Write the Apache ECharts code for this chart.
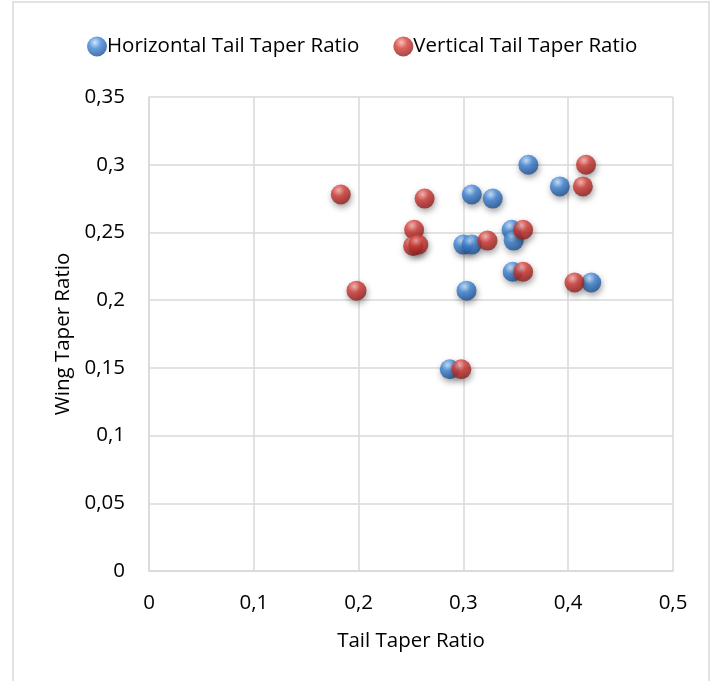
<!DOCTYPE html>
<html>
<head>
<meta charset="utf-8">
<script src="https://cdn.jsdelivr.net/npm/echarts@6/dist/echarts.min.js"></script>
<style>
  html, body { margin: 0; padding: 0; background: #fff; }
  #chart { width: 721px; height: 681px; }
</style>
</head>
<body>
<div id="chart"></div>
<script>
// tail taper ratio (x) vs wing taper ratio (y)
const horizontalX = [0.362, 0.392, 0.308, 0.328, 0.346, 0.348, 0.300, 0.308, 0.347, 0.422, 0.303, 0.287];
const horizontalY = [0.300, 0.284, 0.278, 0.275, 0.252, 0.244, 0.241, 0.241, 0.221, 0.213, 0.207, 0.149];
const verticalX = [0.417, 0.414, 0.183, 0.263, 0.253, 0.252, 0.257, 0.323, 0.357, 0.357, 0.406, 0.198, 0.298];
const verticalY = [0.300, 0.284, 0.278, 0.275, 0.252, 0.240, 0.241, 0.244, 0.252, 0.221, 0.213, 0.207, 0.149];
const xTicks = [0, 0.1, 0.2, 0.3, 0.4, 0.5];
const yTicks = [0, 0.05, 0.1, 0.15, 0.2, 0.25, 0.3, 0.35];

const font = "Open Sans";
const fs = 20.5;
const comma = (v) => String(v).replace(".", ",");

function sphere(light, mid, dark) {
  return {
    type: "radial", x: 0.4, y: 0.3, r: 0.75,
    colorStops: [
      { offset: 0, color: light },
      { offset: 0.4, color: mid },
      { offset: 1, color: dark },
    ],
  };
}
const blue = sphere("#c4e0fa", "#3f86d8", "#1a4a8a");
const red = sphere("#f7b0ab", "#d43b36", "#881a18");

function pairs(xs, ys) {
  return xs.map((x, i) => [x, ys[i]]);
}

const chartDom = document.getElementById("chart");
const myChart = echarts.init(chartDom);

const option = {
  animation: false,
  textStyle: { fontFamily: font },
  graphic: [
    {
      type: "rect",
      shape: { x: 13, y: 2, width: 696, height: 690 },
      style: { fill: "none", stroke: "#d9d9d9", lineWidth: 1.5 },
      silent: true,
    },
  ],
  legend: {
    top: 31,
    left: 82,
    itemGap: 34,
    itemWidth: 20,
    itemHeight: 20,
    icon: "circle",
    textStyle: { fontSize: fs, color: "#000", fontFamily: font, padding: [0, 0, 0, -5] },
    data: [
      { name: "Horizontal Tail Taper Ratio", itemStyle: { color: blue } },
      { name: "Vertical Tail Taper Ratio", itemStyle: { color: red } },
    ],
  },
  grid: { left: 149, right: 48, top: 97, bottom: 110 },
  xAxis: {
    type: "value",
    min: 0, max: 0.5, interval: 0.1,
    name: "Tail Taper Ratio",
    nameLocation: "middle",
    nameGap: 60,
    nameTextStyle: { fontSize: fs, color: "#000" },
    axisLine: { show: true, lineStyle: { color: "#d9d9d9", width: 1.5 } },
    axisTick: { show: false },
    splitLine: { show: true, lineStyle: { color: "#d9d9d9", width: 1.5 } },
    axisLabel: {
      fontSize: fs, color: "#000", margin: 22,
      formatter: (v) => comma(xTicks.find((t) => Math.abs(t - v) < 1e-9) ?? v),
    },
  },
  yAxis: {
    type: "value",
    min: 0, max: 0.35, interval: 0.05,
    name: "Wing Taper Ratio",
    nameLocation: "middle",
    nameRotate: 90,
    nameGap: 75,
    nameTextStyle: { fontSize: fs, color: "#000" },
    axisLine: { show: true, lineStyle: { color: "#d9d9d9", width: 1.5 } },
    axisTick: { show: false },
    splitLine: { show: true, lineStyle: { color: "#d9d9d9", width: 1.5 } },
    axisLabel: {
      fontSize: fs, color: "#000", margin: 24,
      formatter: (v) => comma(yTicks.find((t) => Math.abs(t - v) < 1e-9) ?? v),
    },
  },
  series: [
    {
      name: "Horizontal Tail Taper Ratio",
      type: "scatter",
      symbolSize: 20,
      data: pairs(horizontalX, horizontalY),
      itemStyle: {
        color: blue,
        shadowBlur: 6,
        shadowColor: "rgba(0,0,0,0.45)",
        shadowOffsetX: 1,
        shadowOffsetY: 3,
      },
    },
    {
      name: "Vertical Tail Taper Ratio",
      type: "scatter",
      symbolSize: 20,
      data: pairs(verticalX, verticalY),
      itemStyle: {
        color: red,
        shadowBlur: 6,
        shadowColor: "rgba(0,0,0,0.45)",
        shadowOffsetX: 1,
        shadowOffsetY: 3,
      },
    },
  ],
};

myChart.setOption(option);
</script>
</body>
</html>
